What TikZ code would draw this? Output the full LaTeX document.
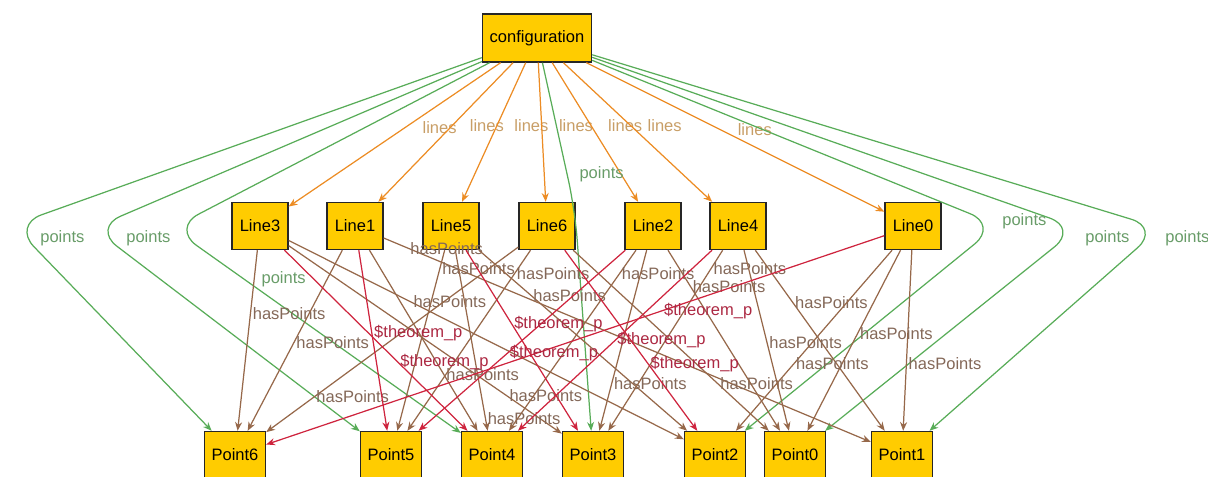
\documentclass[tikz,border=0pt]{standalone}
\usepackage{fontspec}
\setmainfont{Liberation Sans}
\usepackage{tikz}
\usetikzlibrary{arrows.meta}
\definecolor{gold}{RGB}{255,204,0}
\definecolor{edgeOrange}{RGB}{236,140,36}
\definecolor{edgeGreen}{RGB}{88,172,88}
\definecolor{edgeBrown}{RGB}{150,104,74}
\definecolor{edgeRed}{RGB}{206,36,62}
\definecolor{lblOrange}{RGB}{200,158,102}
\definecolor{lblGreen}{RGB}{104,156,104}
\definecolor{lblBrown}{RGB}{132,104,88}
\definecolor{lblRed}{RGB}{172,40,66}
\tikzstyle{config} = [rectangle, minimum width=2.18cm, minimum height=0.96cm, text centered, draw=black!85, fill=gold, line width=0.8pt]
\tikzstyle{linebox} = [rectangle, minimum width=1.12cm, minimum height=0.94cm, text centered, draw=black!85, fill=gold, line width=0.8pt]
\tikzstyle{pointbox} = [rectangle, minimum width=1.22cm, minimum height=0.94cm, text centered, draw=black!85, fill=gold, line width=0.8pt]
\tikzstyle{lbl} = [anchor=west, inner sep=1pt]
\tikzstyle{arrowLines} = [edgeOrange, line width=0.7pt, ->, >={Stealth[length=5pt, width=4pt]}]
\tikzstyle{arrowPoints} = [edgeGreen, line width=0.7pt, rounded corners=0.6cm, ->, >={Stealth[length=5pt, width=4pt]}]
\tikzstyle{arrowHas} = [edgeBrown, line width=0.7pt, ->, >={Stealth[length=5pt, width=4pt]}]
\tikzstyle{arrowTheo} = [edgeRed, line width=0.7pt, ->, >={Stealth[length=5pt, width=4pt]}]
\tikzstyle{lblLines} = [lbl, text=lblOrange, xshift=0.3cm]
\tikzstyle{lblPoints} = [lbl, text=lblGreen]
\tikzstyle{lblHas} = [lbl, text=lblBrown]
\tikzstyle{lblTheo} = [lbl, text=lblRed]

\begin{document}
\begin{tikzpicture}[node distance=3.76cm, font=\fontsize{9.4}{11}\selectfont]

		\useasboundingbox (-10.74,0.76) rectangle (13.42,-8.76);
		\clip (-10.74,0.76) rectangle (13.42,-8.76);

		\node (conf) [config] {configuration};

		\node (line3) [linebox, below of=conf, xshift=-5.54cm] {Line3};
		\node (line1) [linebox, below of=conf, xshift=-3.64cm] {Line1};
		\node (line5) [linebox, below of=conf, xshift=-1.72cm] {Line5};
		\node (line6) [linebox, below of=conf, xshift=0.2cm] {Line6};
		\node (line2) [linebox, below of=conf, xshift=2.32cm] {Line2};
		\node (line4) [linebox, below of=conf, xshift=4.02cm] {Line4};
		\node (line0) [linebox, below of=conf, xshift=7.52cm] {Line0};

		\node (point6) [pointbox, below of=conf, yshift=-4.58cm, xshift=-6.04cm] {Point6};
		\node (point5) [pointbox, below of=conf, yshift=-4.58cm, xshift=-2.92cm] {Point5};
		\node (point4) [pointbox, below of=conf, yshift=-4.58cm, xshift=-0.9cm] {Point4};
		\node (point3) [pointbox, below of=conf, yshift=-4.58cm, xshift=1.12cm] {Point3};
		\node (point2) [pointbox, below of=conf, yshift=-4.58cm, xshift=3.56cm] {Point2};
		\node (point0) [pointbox, below of=conf, yshift=-4.58cm, xshift=5.16cm] {Point0};
		\node (point1) [pointbox, below of=conf, yshift=-4.58cm, xshift=7.3cm] {Point1};

		% bends of the points edges
		\coordinate (bend6) at (-10.48,-3.74);
		\coordinate (bend5) at (-8.88,-3.8);
		\coordinate (bend4) at (-7.3,-3.8);
		\coordinate (bend3) at (0.76,-3.44);
		\coordinate (bend2) at (9.22,-3.74);
		\coordinate (bend0) at (10.82,-3.8);
		\coordinate (bend1) at (12.46,-3.8);

		\draw [arrowLines] (conf) -- node[lblLines, pos=0.45] {lines} (line3);
		\draw [arrowLines] (conf) -- node[lblLines, pos=0.45] {lines} (line1);
		\draw [arrowLines] (conf) -- node[lblLines, pos=0.45] {lines} (line5);
		\draw [arrowLines] (conf) -- node[lblLines, pos=0.45] {lines} (line6);
		\draw [arrowLines] (conf) -- node[lblLines, pos=0.45] {lines} (line2);
		\draw [arrowLines] (conf) -- node[lblLines, pos=0.45] {lines} (line4);
		\draw [arrowLines] (conf) -- node[lblLines, pos=0.45] {lines} (line0);

		\draw [arrowPoints] (conf) -- (bend6) node[lblPoints, xshift=0.5cm, yshift=-0.26cm] {points} -- (point6);
		\draw [arrowPoints] (conf) -- (bend5) node[lblPoints, xshift=0.62cm, yshift=-0.2cm] {points} -- (point5);
		\draw [arrowPoints] (conf) -- (bend4) -- node[lblPoints, pos=0.25, xshift=0.3cm] {points} (point4);
		\draw [arrowPoints] (conf) -- node[lblPoints, pos=0.76, xshift=0.2cm] {points} (bend3) -- (point3);
		\draw [arrowPoints] (conf) -- (bend2) node[lblPoints, xshift=0.04cm, yshift=0.08cm] {points} -- (point2);
		\draw [arrowPoints] (conf) -- (bend0) node[lblPoints, xshift=0.1cm, yshift=-0.2cm] {points} -- (point0);
		\draw [arrowPoints] (conf) -- (bend1) node[lblPoints, xshift=0.06cm, yshift=-0.2cm] {points} -- (point1);

		\draw [arrowHas] (line3) -- node[lblHas, pos=0.35] {hasPoints} (point6);
		\draw [arrowHas] (line3) -- node[lblHas, pos=0.31] {hasPoints} (point2);
		\draw [arrowHas] (line3) -- node[lblHas, pos=0.8] {hasPoints} (point3);
		\draw [arrowHas] (line1) -- node[lblHas, pos=0.51] {hasPoints} (point6);
		\draw [arrowHas] (line1) -- node[lblHas, pos=0.69] {hasPoints} (point4);
		\draw [arrowHas] (line1) -- node[lblHas, pos=0.05] {hasPoints} (point1);
		\draw [arrowHas] (line5) -- node[lblHas, pos=0.1] {hasPoints} (point5);
		\draw [arrowHas] (line5) -- node[lblHas, pos=0.93] {hasPoints} (point4);
		\draw [arrowHas] (line5) -- node[lblHas, pos=0.25] {hasPoints} (point2);
		\draw [arrowHas] (line6) -- node[lblHas, pos=0.13] {hasPoints} (point5);
		\draw [arrowHas] (line6) -- node[lblHas, pos=0.81] {hasPoints} (point6);
		\draw [arrowHas] (line6) -- node[lblHas, pos=0.74] {hasPoints} (point0);
		\draw [arrowHas] (line2) -- node[lblHas, pos=0.13] {hasPoints} (point4);
		\draw [arrowHas] (line2) -- node[lblHas, pos=0.74] {hasPoints} (point3);
		\draw [arrowHas] (line2) -- node[lblHas, pos=0.2] {hasPoints} (point0);
		\draw [arrowHas] (line4) -- node[lblHas, pos=0.1] {hasPoints} (point3);
		\draw [arrowHas] (line4) -- node[lblHas, pos=0.29] {hasPoints} (point1);
		\draw [arrowHas] (line4) -- node[lblHas, pos=0.51] {hasPoints} (point0);
		\draw [arrowHas] (line0) -- node[lblHas, pos=0.63] {hasPoints} (point1);
		\draw [arrowHas] (line0) -- node[lblHas, pos=0.46] {hasPoints} (point0);
		\draw [arrowHas] (line0) -- node[lblHas, pos=0.63] {hasPoints} (point2);

		\draw [arrowTheo] (line0) -- node[lblTheo, pos=0.36] {\$theorem\_p} (point6);
		\draw [arrowTheo] (line1) -- node[lblTheo, pos=0.46] {\$theorem\_p} (point5);
		\draw [arrowTheo] (line2) -- node[lblTheo, pos=0.57] {\$theorem\_p} (point5);
		\draw [arrowTheo] (line3) -- node[lblTheo, pos=0.62] {\$theorem\_p} (point4);
		\draw [arrowTheo] (line4) -- node[lblTheo, pos=0.5] {\$theorem\_p} (point4);
		\draw [arrowTheo] (line5) -- node[lblTheo, pos=0.41] {\$theorem\_p} (point3);
		\draw [arrowTheo] (line6) -- node[lblTheo, pos=0.63] {\$theorem\_p} (point2);

		\end{tikzpicture}
\end{document}
